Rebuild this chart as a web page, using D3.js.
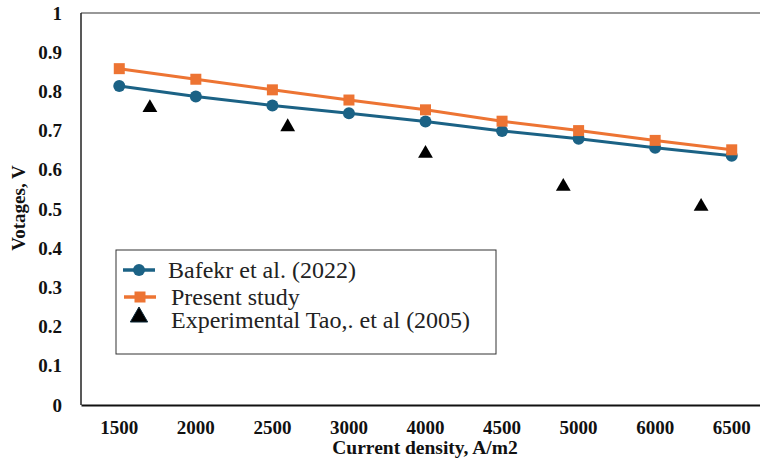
<!DOCTYPE html>
<html><head><meta charset="utf-8">
<script src="https://cdn.jsdelivr.net/npm/d3@7"></script>
<style>body{margin:0;background:#fff}svg{display:block}</style>
</head><body>
<svg id="c" width="760" height="464"></svg>
<script>
const categories = ["1500","2000","2500","3000","4000","4500","5000","6000","6500"];
const bafekr = [0.814,0.787,0.764,0.744,0.723,0.699,0.679,0.656,0.636];
const present = [0.858,0.831,0.804,0.778,0.753,0.724,0.700,0.675,0.651];
const expX = [1700,2600,4000,4900,6300];
const expY = [0.761,0.712,0.644,0.560,0.509];
const yTicks = [0,0.1,0.2,0.3,0.4,0.5,0.6,0.7,0.8,0.9,1];
const seriesNames = ["Bafekr et al. (2022)","Present study","Experimental Tao,. et al (2005)"];

const svg = d3.select("#c");
const L = 81, T = 13, R = 770, B = 405;
const blue = "#1b6285", orange = "#ed7433";
const serif = "Liberation Serif";

const x = d3.scaleBand().domain(categories).range([L, R]).padding(0);
const cx = c => x(c) + x.bandwidth()/2;
// piecewise-linear mapping of numeric current density onto category positions
const xNum = d3.scaleLinear().domain(categories.map(Number)).range(categories.map(cx));
const y = d3.scaleLinear().domain([0,1]).range([B, T]);

// frame
svg.append("line").attr("x1",L).attr("x2",R).attr("y1",T).attr("y2",T).attr("stroke","#333").attr("stroke-width",1.2);
svg.append("line").attr("x1",L).attr("x2",L).attr("y1",T).attr("y2",B).attr("stroke","#222").attr("stroke-width",1.5);

// y axis
const ya = svg.append("g").attr("transform",`translate(${L},0)`)
  .call(d3.axisLeft(y).tickValues(yTicks).tickSize(0).tickPadding(19).tickFormat(d=>d===0?"0":d===1?"1":d3.format(".1f")(d)));
ya.select(".domain").remove();
ya.selectAll("text").style("font-family",serif).style("font-weight","bold").style("font-size","19px").attr("fill","#111");

// x axis
const xa = svg.append("g").attr("transform",`translate(0,${B})`)
  .call(d3.axisBottom(x).tickSize(0).tickPadding(16));
xa.select(".domain").attr("stroke","#111").attr("stroke-width",2.2);
xa.selectAll("text").style("font-family",serif).style("font-weight","bold").style("font-size","19px").attr("fill","#111");

// axis titles
svg.append("text").attr("x",425).attr("y",454).attr("text-anchor","middle")
  .style("font-family",serif).style("font-weight","bold").style("font-size","19.5px").attr("fill","#111")
  .text("Current density, A/m2");
svg.append("text").attr("transform","translate(25,208) rotate(-90)").attr("text-anchor","middle")
  .style("font-family",serif).style("font-weight","bold").style("font-size","19px").attr("fill","#111")
  .text("Votages, V");

const line = d3.line().x((d,i)=>cx(categories[i])).y(d=>y(d));

// Bafekr
svg.append("path").datum(bafekr).attr("d",line).attr("fill","none").attr("stroke",blue).attr("stroke-width",3);
svg.selectAll(".bc").data(bafekr).join("circle").attr("cx",(d,i)=>cx(categories[i])).attr("cy",d=>y(d)).attr("r",6).attr("fill",blue);

// Present
svg.append("path").datum(present).attr("d",line).attr("fill","none").attr("stroke",orange).attr("stroke-width",3);
svg.selectAll(".ps").data(present).join("rect").attr("x",(d,i)=>cx(categories[i])-5.5).attr("y",d=>y(d)-5.5).attr("width",11).attr("height",11).attr("fill",orange);

// Experimental
const tri = d3.symbol().type(d3.symbolTriangle).size(95);
svg.selectAll(".ex").data(expY).join("path").attr("d",tri)
  .attr("transform",(d,i)=>`translate(${xNum(expX[i])},${y(d)+1})`).attr("fill","#000");

// legend
const lg = svg.append("g");
lg.append("rect").attr("x",116).attr("y",250).attr("width",380).attr("height",104).attr("fill","#fff").attr("stroke","#333").attr("stroke-width",1);
const rows = [270, 297, 320];
lg.append("line").attr("x1",123).attr("x2",155).attr("y1",rows[0]).attr("y2",rows[0]).attr("stroke",blue).attr("stroke-width",3.5);
lg.append("circle").attr("cx",139).attr("cy",rows[0]).attr("r",6).attr("fill",blue);
lg.append("line").attr("x1",124).attr("x2",156).attr("y1",rows[1]).attr("y2",rows[1]).attr("stroke",orange).attr("stroke-width",3.5);
lg.append("rect").attr("x",134.5).attr("y",rows[1]-5.5).attr("width",11).attr("height",11).attr("fill",orange);
lg.append("path").attr("d",d3.symbol().type(d3.symbolTriangle).size(130)).attr("transform",`translate(139,${rows[2]-3})`).attr("fill","#000").attr("stroke","#0d2a3a").attr("stroke-width",1);
const tx = [168,171,171];
seriesNames.forEach((n,i)=>{
  lg.append("text").attr("x",tx[i]).attr("y",rows[i]+8).style("font-family",serif).style("font-size","24px").attr("fill","#222").text(n);
});
</script>
</body></html>
